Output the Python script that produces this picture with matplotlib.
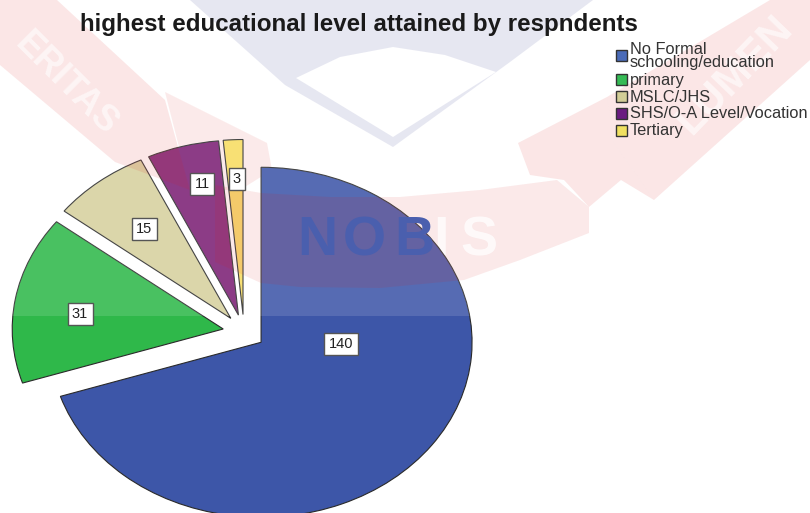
import matplotlib
matplotlib.use("Agg")
import matplotlib.pyplot as plt
from matplotlib.patches import Polygon, Rectangle

W, H = 810, 513
TITLE = "highest educational level attained by respndents"
categories = ["No Formal\nschooling/education", "primary", "MSLC/JHS",
              "SHS/O-A Level/Vocation", "Tertiary"]
counts = [140, 31, 15, 11, 3]
explode = [0.1, 0.1, 0.1, 0.1, 0.1]
colors = ["#3D56A8", "#2FB84A", "#D6D09E", "#7B2075", "#F7DC60"]
legend_colors = ["#4A6BB8", "#35BB55", "#D2CD96", "#6A1B80", "#F0E060"]
# where the value boxes and legend rows sit, in image pixels
label_xy = [(341, 344), (80, 314), (144, 229), (202, 184), (237, 179)]
legend_box_y = [55, 79, 96, 113, 130]
legend_text_y = [56, 81, 97, 114, 131]

# watermark outlines, image pixels
SHIELD_OUT = [(190, 0), (285, 85), (393, 147), (510, 62), (593, 0)]
SHIELD_IN = [(296, 78), (340, 57), (393, 47), (445, 55), (496, 72), (393, 137)]
RIBBON_BACK = [(165, 92), (267, 143), (272, 170), (240, 190), (190, 190)]
BANNER = [(215, 185), (261, 193), (330, 197), (400, 197), (480, 190), (557, 180), (589, 207),
          (589, 233), (520, 260), (464, 280), (380, 288), (300, 287), (261, 283), (215, 262)]
RIBBONS = [
    [(518, 143), (607, 97), (614, 143), (654, 200), (621, 180), (589, 207), (564, 180), (530, 175)],
    [(614, 143), (654, 200), (810, 60), (810, 0), (770, 0), (607, 97)],
    [(0, 65), (115, 162), (190, 190), (165, 100), (57, 0), (0, 0)],
]
NOBIS_LETTERS = ["N", "O", "B", "I", "S"]
NOBIS_X = [317, 364, 414, 441, 479]

plt.rcParams["font.family"] = ["Liberation Sans", "DejaVu Sans"]
fig = plt.figure(figsize=(W / 100, H / 100), dpi=100)

# background, under the pie
bg = fig.add_axes([0, 0, 1, 1], zorder=0)
bg.set_xlim(0, W)
bg.set_ylim(H, 0)
bg.axis("off")
bg.add_patch(Polygon(SHIELD_OUT, fc="#E3E4F0", ec="none"))
bg.add_patch(Polygon(SHIELD_IN, fc="white", ec="none"))
bg.add_patch(Polygon(RIBBON_BACK, fc="#DC2020", ec="none", alpha=0.1))
bg.add_patch(Polygon(BANNER, fc="#DC2020", ec="none", alpha=0.11))

nobis = dict(ha="center", va="center", fontsize=40, fontweight="bold")
# I and S run off the pie: white under it, so the pie cuts them
for x, letter in zip(NOBIS_X[3:], NOBIS_LETTERS[3:]):
    bg.text(x, 241, letter, color="white", alpha=0.8, **nobis)

# pie is stretched: 1 data unit = 211 px across, 175 px down
CX, CY, RX, RY = 244, 332, 211, 175
ax = fig.add_axes([0, 0, 1, 1], zorder=1)
ax.patch.set_visible(False)
wedges, _ = ax.pie(counts, explode=explode, colors=colors, startangle=90, counterclock=False,
                   wedgeprops={"edgecolor": "#2a2a2a", "linewidth": 0.8})
ax.set_aspect("auto")
ax.set_xlim(-CX / RX, (W - CX) / RX)
ax.set_ylim((CY - H) / RY, CY / RY)

# watermark over the pie, plus all the text
top = fig.add_axes([0, 0, 1, 1], zorder=2)
top.patch.set_visible(False)
top.set_xlim(0, W)
top.set_ylim(H, 0)
top.axis("off")
top.add_patch(Rectangle((0, 0), W, 316, fc="white", ec="none", alpha=0.13))
for pts in RIBBONS:
    top.add_patch(Polygon(pts, fc="#DC2020", ec="none", alpha=0.11))
# banner again, only where it crosses the slices
for w in wedges:
    p = Polygon(BANNER, fc="#DC2020", ec="none", alpha=0.11)
    top.add_patch(p)
    p.set_clip_path(w)

top.text(66, 84, "ERITAS", color="white", alpha=0.6, fontsize=26, fontweight="bold",
         rotation=-45, rotation_mode="anchor", ha="center", va="center")
top.text(735, 75, "LUMEN", color="white", alpha=0.6, fontsize=30, fontweight="bold",
         rotation=46, rotation_mode="anchor", ha="center", va="center")

for x, letter in zip(NOBIS_X[:3], NOBIS_LETTERS[:3]):
    top.text(x, 241, letter, color="#4A5FAE", **nobis)

top.text(80, 24.5, TITLE, fontsize=17.4, fontweight="bold", color="#1a1a1a", ha="left", va="center")

for (x, y), val in zip(label_xy, counts):
    top.text(x, y, str(val), fontsize=10.5, color="#222222", ha="center", va="center",
             bbox=dict(boxstyle="square,pad=0.3", fc="white", ec="#555555", lw=1))

# legend rows are not evenly spaced in the original, so placed by hand
for name, col, by, ty in zip(categories, legend_colors, legend_box_y, legend_text_y):
    top.add_patch(Rectangle((615.5, by - 5.5), 11, 11, fc=col, ec="#333333", lw=1))
    top.text(630, ty, name, fontsize=11.8, color="#333333", ha="left", va="center", linespacing=0.78)

fig.savefig("out.png", dpi=100)
